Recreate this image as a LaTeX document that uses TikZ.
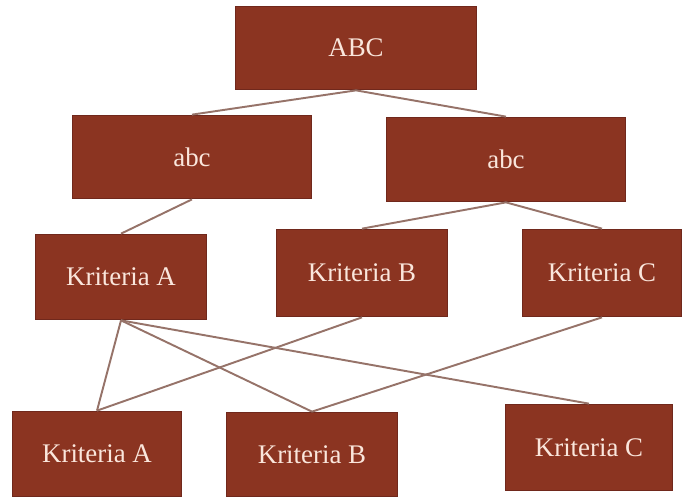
\documentclass[tikz,border=0pt]{standalone}
\usepackage{fontspec}
\setmainfont{Liberation Serif}
\usepackage{tikz}

\definecolor{boxred}{RGB}{139,52,33}
\definecolor{boxedge}{RGB}{112,40,28}
\definecolor{boxtext}{RGB}{250,230,220}
\definecolor{linkgray}{RGB}{150,115,105}

\begin{document}
\begin{tikzpicture}[x=0.02cm, y=-0.02cm,
    box/.style={rectangle, fill=boxred, draw=boxedge, line width=0.6pt,
      text=boxtext, inner sep=0pt, font=\fontsize{15.3}{18}\selectfont},
    link/.style={draw=linkgray, line width=1.1pt}]
  \useasboundingbox (0,0) rectangle (682,497);

  % Level 0 and 1
  \node[box, minimum width=242*0.567pt, minimum height=84*0.567pt] (top) at (356,48) {ABC};
  \node[box, minimum width=240*0.567pt, minimum height=84*0.567pt] (abcL) at (192,157) {abc};
  \node[box, minimum width=240*0.567pt, minimum height=85*0.567pt] (abcR) at (506,159.5) {abc};

  % Criteria
  \node[box, minimum width=172*0.567pt, minimum height=86*0.567pt] (kritA) at (121,277) {Kriteria A};
  \node[box, minimum width=172*0.567pt, minimum height=88*0.567pt] (kritB) at (362,273) {Kriteria B};
  \node[box, minimum width=160*0.567pt, minimum height=88*0.567pt] (kritC) at (602,273) {Kriteria C};

  % Alternatives
  \node[box, minimum width=170*0.567pt, minimum height=86*0.567pt] (altA) at (97,454) {Kriteria A};
  \node[box, minimum width=172*0.567pt, minimum height=85*0.567pt] (altB) at (312,454.5) {Kriteria B};
  \node[box, minimum width=168*0.567pt, minimum height=87*0.567pt] (altC) at (589,447.5) {Kriteria C};

  % Links
  \draw[link] (top.south) -- (abcL.north);
  \draw[link] (top.south) -- (abcR.north);
  \draw[link] (abcL.south) -- (kritA.north);
  \foreach \k in {kritB,kritC} { \draw[link] (abcR.south) -- (\k.north); }
  \foreach \a in {altA,altB,altC} { \draw[link] (kritA.south) -- (\a.north); }
  \draw[link] (kritB.south) -- (altA.north);
  \draw[link] (kritC.south) -- (altB.north);
\end{tikzpicture}
\end{document}
